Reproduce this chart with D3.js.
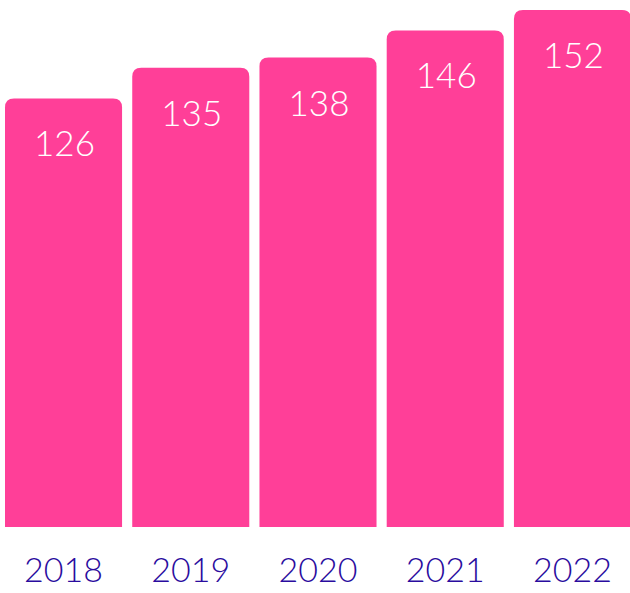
<!DOCTYPE html>
<html>
<head>
<meta charset="utf-8">
<script src="https://cdn.jsdelivr.net/npm/d3@7"></script>
<style>
  html, body { margin: 0; padding: 0; background: #ffffff; }
  svg { display: block; }
</style>
</head>
<body>
<script>
// chart data
var years = ["2018", "2019", "2020", "2021", "2022"];
var values = [126, 135, 138, 146, 152];

var w = 630;
var h = 593;
var barColor = "#ff3f98";
var axisColor = "#2a0c9e";
var fontStack = "Lato, 'Open Sans', 'DejaVu Sans', sans-serif";

var svg = d3.select("body").append("svg")
    .attr("width", w)
    .attr("height", h);

var x = d3.scaleBand()
    .domain(years)
    .range([5, 631])
    .paddingInner(0.08);

var y = d3.scaleLinear()
    .domain([0, d3.max(values)])
    .range([527, 10]);

// bar with rounded top corners only
function barPath(x0, y0, bw, bh, r) {
    return "M" + x0 + "," + (y0 + bh) +
        "V" + (y0 + r) +
        "Q" + x0 + "," + y0 + " " + (x0 + r) + "," + y0 +
        "H" + (x0 + bw - r) +
        "Q" + (x0 + bw) + "," + y0 + " " + (x0 + bw) + "," + (y0 + r) +
        "V" + (y0 + bh) + "Z";
}

var data = years.map(function (d, i) {
    return { year: d, value: values[i] };
});

svg.append("g")
    .selectAll("path")
    .data(data)
    .enter().append("path")
    .attr("d", function (d) {
        return barPath(x(d.year), y(d.value), x.bandwidth(), y(0) - y(d.value), 9);
    })
    .attr("fill", barColor);

// value labels inside bars
svg.append("g")
    .selectAll("text")
    .data(data)
    .enter().append("text")
    .attr("x", function (d) { return x(d.year) + x.bandwidth() / 2 + 1; })
    .attr("y", function (d) { return y(d.value) + 58; })
    .attr("text-anchor", "middle")
    .attr("fill", "#ffffff")
    .style("font-family", fontStack)
    .style("font-weight", 300)
    .style("font-size", "35px")
    .text(function (d) { return d.value; });

// x axis labels
var xAxis = d3.axisBottom(x).tickSize(0).tickPadding(0);
var gx = svg.append("g")
    .attr("transform", "translate(0,527)")
    .call(xAxis);
gx.select(".domain").remove();
gx.selectAll("text")
    .attr("y", 55)
    .attr("dy", 0)
    .attr("fill", axisColor)
    .style("font-family", fontStack)
    .style("font-weight", 300)
    .style("font-size", "34px");
</script>
</body>
</html>
